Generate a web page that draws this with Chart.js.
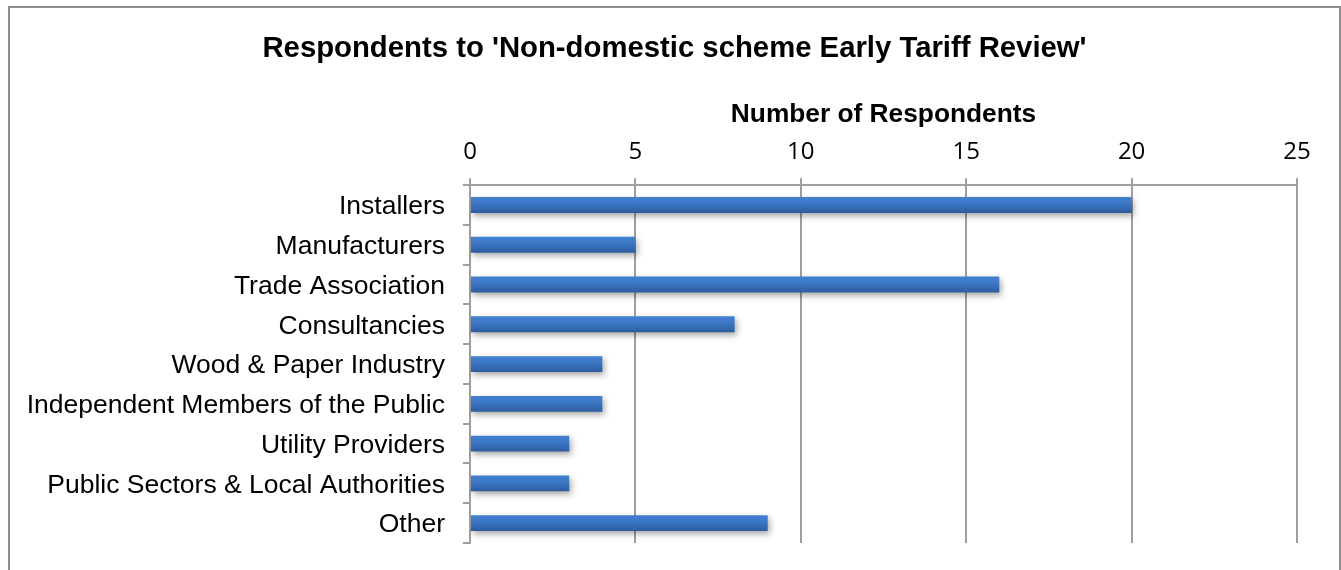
<!DOCTYPE html>
<html>
<head>
<meta charset="utf-8">
<script src="https://cdn.jsdelivr.net/npm/chart.js@4/dist/chart.umd.min.js"></script>
<style>
  body { margin: 0; background: #fff; }
  #wrap { position: relative; width: 1341px; height: 570px; }
  #frame {
    position: absolute; left: 8px; top: 6px; width: 1333px; height: 600px;
    border: 2px solid #8e8e8e; box-sizing: border-box; pointer-events: none;
  }
  canvas { position: absolute; left: 0; top: 0; }
</style>
</head>
<body>
<div id="wrap">
  <canvas id="respondentsChart" width="1341" height="570"></canvas>
  <div id="frame"></div>
</div>
<script>
// Respondent groups and counts
const categories = [
    'Installers',
    'Manufacturers',
    'Trade Association',
    'Consultancies',
    'Wood & Paper Industry',
    'Independent Members of the Public',
    'Utility Providers',
    'Public Sectors & Local Authorities',
    'Other'
];
const respondents = [20, 5, 16, 8, 4, 4, 3, 3, 9];
const axisMin = 0;
const axisMax = 25;
const axisStep = 5;

const BAR_PCT = 0.4;

// vertical gradient across each bar's thickness
function barFill(context) {
    const chart = context.chart;
    const yScale = chart.scales.y;
    if (!chart.chartArea || !yScale || context.dataIndex === undefined) {
        return '#3a74c2';
    }
    const centre = yScale.getPixelForValue(context.dataIndex);
    const half = (yScale.height / categories.length) * BAR_PCT / 2;
    const g = chart.ctx.createLinearGradient(0, centre - half, 0, centre + half);
    g.addColorStop(0, '#4282d2');
    g.addColorStop(0.5, '#3a74c2');
    g.addColorStop(1, '#2d5c9c');
    return g;
}

// soft drop shadow under the bars
const barShadow = {
    id: 'barShadow',
    beforeDatasetsDraw(chart) {
        const ctx = chart.ctx;
        ctx.save();
        ctx.shadowColor = 'rgba(0, 0, 0, 0.35)';
        ctx.shadowBlur = 6;
        ctx.shadowOffsetX = 2;
        ctx.shadowOffsetY = 3;
    },
    afterDatasetsDraw(chart) {
        chart.ctx.restore();
    }
};

// centre the main title across the whole framed box, not just the padded area
const wideTitle = {
    id: 'wideTitle',
    afterLayout(chart) {
        if (chart.titleBlock) {
            chart.titleBlock.left = 8;
            chart.titleBlock.right = chart.width;
        }
    }
};

const gridGrey = '#9e9e9e';

new Chart(document.getElementById('respondentsChart'), {
    type: 'bar',
    data: {
        labels: categories,
        datasets: [{
            label: 'Number of Respondents',
            data: respondents,
            backgroundColor: barFill,
            borderWidth: 0,
            barPercentage: BAR_PCT,
            categoryPercentage: 1.0
        }]
    },
    plugins: [barShadow, wideTitle],
    options: {
        indexAxis: 'y',
        responsive: false,
        animation: false,
        devicePixelRatio: 1,
        layout: {
            padding: { left: 0, right: 44, top: 0, bottom: 27 }
        },
        plugins: {
            legend: { display: false },
            tooltip: { enabled: false },
            title: {
                display: true,
                text: "Respondents to 'Non-domestic scheme Early Tariff Review'",
                color: '#000',
                font: { family: 'Liberation Sans, Arial, sans-serif', size: 29.3, weight: 'bold' },
                padding: { top: 31, bottom: 9 }
            }
        },
        scales: {
            x: {
                position: 'top',
                min: axisMin,
                max: axisMax,
                ticks: {
                    stepSize: axisStep,
                    color: '#000',
                    padding: 12,
                    font: { family: 'Open Sans, sans-serif', size: 24 }
                },
                grid: {
                    color: gridGrey,
                    lineWidth: 2,
                    tickLength: 7
                },
                border: { color: gridGrey, width: 2 },
                title: {
                    display: true,
                    text: 'Number of Respondents',
                    color: '#000',
                    font: { family: 'Liberation Sans, Arial, sans-serif', size: 26.3, weight: 'bold' },
                    padding: { top: 24, bottom: 0 }
                },
                afterFit(scale) {
                    scale.height = 110;
                }
            },
            y: {
                ticks: {
                    color: '#000',
                    padding: 18,
                    labelOffset: 2,
                    font: { family: 'Liberation Sans, Arial, sans-serif', size: 26.5 }
                },
                grid: {
                    offset: true,
                    drawOnChartArea: false,
                    color: gridGrey,
                    lineWidth: 2,
                    tickLength: 7
                },
                border: { color: gridGrey, width: 2 },
                afterFit(scale) {
                    scale.width = 470;
                    // labels sit inside their bands, so no extra room is needed above/below
                    scale.paddingTop = 0;
                    scale.paddingBottom = 0;
                }
            }
        }
    }
});
</script>
</body>
</html>
